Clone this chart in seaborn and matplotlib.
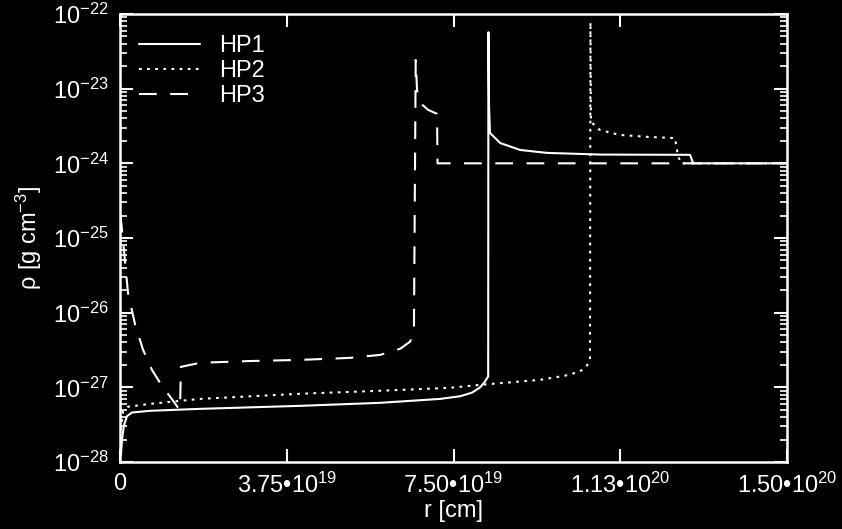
import numpy as np
import pandas as pd
import matplotlib
matplotlib.use("Agg")
import matplotlib.pyplot as plt
import seaborn as sns

# ---- data ----
hp1_r = [0.022e19, 0.045e19, 0.09e19, 0.157e19, 0.27e19, 0.675e19, 1.80e19, 4.05e19, 5.85e19,
         7.20e19, 7.65e19, 7.92e19, 8.10e19, 8.21e19, 8.28e19, 8.285e19, 8.30e19, 8.32e19,
         8.55e19, 9.00e19, 9.60e19, 1.08e20, 1.282e20, 1.289e20, 1.50e20]
hp1_rho = [1.25e-28, 2.0e-28, 3.1e-28, 4.1e-28, 4.6e-28, 4.85e-28, 5.15e-28, 5.65e-28, 6.2e-28,
           7.0e-28, 7.6e-28, 8.5e-28, 1.0e-27, 1.2e-27, 1.4e-27, 5.7e-23, 5.7e-24, 2.55e-24,
           1.87e-24, 1.51e-24, 1.38e-24, 1.31e-24, 1.30e-24, 1.0e-24, 1.0e-24]

hp2_r = [0.022e19, 0.067e19, 0.18e19, 0.675e19, 1.80e19, 4.05e19, 5.85e19, 7.42e19, 8.10e19,
         9.45e19, 10.0e19, 10.34e19, 10.50e19, 10.57e19, 10.58e19, 10.59e19, 10.66e19,
         10.79e19, 11.24e19, 11.92e19, 12.48e19, 12.55e19, 12.62e19, 1.50e20]
hp2_rho = [2.7e-28, 4.7e-28, 5.5e-28, 6.0e-28, 7.0e-28, 8.2e-28, 9.0e-28, 9.85e-28, 1.08e-27,
           1.26e-27, 1.43e-27, 1.62e-27, 1.95e-27, 2.34e-27, 7.8e-23, 3.6e-24, 3.3e-24,
           2.8e-24, 2.4e-24, 2.25e-24, 2.18e-24, 1.25e-24, 1.0e-24, 1.0e-24]

hp3_r = [0.011e19, 0.067e19, 0.18e19, 0.34e19, 0.517e19, 0.72e19, 0.90e19, 1.30e19, 1.35e19,
         1.37e19, 1.80e19, 2.92e19, 4.05e19, 5.17e19, 5.85e19, 6.30e19, 6.52e19, 6.61e19,
         6.65e19, 6.68e19, 6.75e19, 6.93e19, 7.13e19, 7.14e19, 1.50e20]
hp3_rho = [2.04e-25, 9.4e-26, 1.84e-26, 6.9e-27, 3.2e-27, 1.71e-27, 1.15e-27, 5.4e-28, 5.0e-28,
           1.88e-27, 2.13e-27, 2.25e-27, 2.33e-27, 2.48e-27, 2.72e-27, 3.28e-27, 4.07e-27, 5.37e-27,
           2.42e-23, 9.6e-24, 6.45e-24, 5.2e-24, 4.6e-24, 1.0e-24, 1.0e-24]

x_ticks = [0, 3.75e19, 7.5e19, 1.125e20, 1.5e20]
x_tick_labels = ["0", "3.75•10$^{19}$", "7.50•10$^{19}$", "1.13•10$^{20}$", "1.50•10$^{20}$"]
y_ticks = [1e-28, 1e-27, 1e-26, 1e-25, 1e-24, 1e-23, 1e-22]
y_tick_labels = ["10$^{-28}$", "10$^{-27}$", "10$^{-26}$", "10$^{-25}$",
                 "10$^{-24}$", "10$^{-23}$", "10$^{-22}$"]

sns.set_theme(style="ticks")
plt.rcParams["font.family"] = ["Liberation Sans", "DejaVu Sans"]
plt.rcParams["mathtext.fontset"] = "custom"
plt.rcParams["mathtext.rm"] = "Liberation Sans"
plt.rcParams["mathtext.it"] = "Liberation Sans"
plt.rcParams["mathtext.default"] = "regular"

fig = plt.figure(figsize=(8.42, 5.29), dpi=100, facecolor="black")
ax = fig.add_axes([120/842, 1-462/529, 667/842, 448/529])
ax.set_facecolor("black")

series = [("HP1", hp1_r, hp1_rho, "-"),
          ("HP2", hp2_r, hp2_rho, (0, (1.3, 2.6))),
          ("HP3", hp3_r, hp3_rho, (0, (8.5, 6.5)))]
for name, r, rho, ls in series:
    df = pd.DataFrame({"r": r, "rho": rho})
    sns.lineplot(data=df, x="r", y="rho", ax=ax, color="white", linewidth=1.5,
                 linestyle=ls, label=name, estimator=None, sort=False)

ax.set_yscale("log")
ax.set_xlim(0, 1.5e20)
ax.set_ylim(1e-28, 1e-22)
ax.set_xticks(x_ticks)
ax.set_xticklabels(x_tick_labels)
ax.set_yticks(y_ticks)
ax.set_yticklabels(y_tick_labels)
ax.yaxis.set_minor_locator(matplotlib.ticker.LogLocator(base=10, subs=np.arange(2, 10)))
ax.yaxis.set_minor_formatter(matplotlib.ticker.NullFormatter())

for s in ax.spines.values():
    s.set_color("white")
    s.set_linewidth(1.8)
ax.tick_params(axis="both", which="major", direction="in", length=9.5, width=1.5,
               colors="white", labelsize=17, top=True, right=True, pad=8)
ax.tick_params(axis="y", which="minor", direction="in", length=5, width=1.2,
               colors="white", left=True, right=True)
ax.tick_params(axis="x", which="minor", bottom=False, top=False)

ax.set_xlabel("r [cm]", color="white", fontsize=17, labelpad=1)
ax.set_ylabel("ρ [g cm$^{-3}$]", color="white", fontsize=17, labelpad=6)

leg = ax.legend(loc="upper left", frameon=False, fontsize=17, handlelength=2.6,
                handletextpad=0.8, labelspacing=0.12, borderaxespad=0.4,
                bbox_to_anchor=(0.0, 0.995))
for t in leg.get_texts():
    t.set_color("white")

fig.savefig("out.png", dpi=100, facecolor="black")
